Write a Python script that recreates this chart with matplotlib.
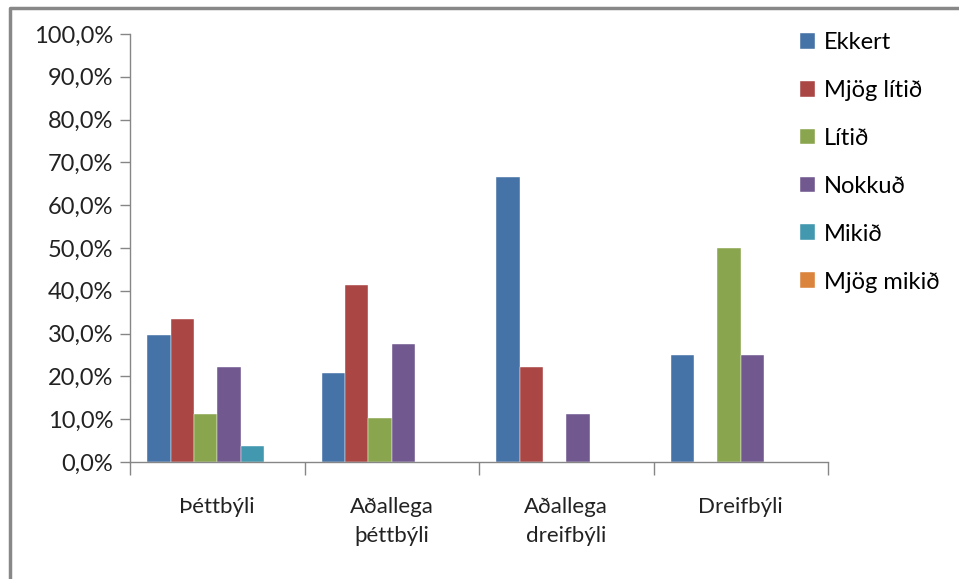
import numpy as np
import matplotlib.pyplot as plt
from matplotlib.lines import Line2D
from matplotlib.ticker import FuncFormatter

plt.rcParams['font.family'] = ['Lato', 'DejaVu Sans']

# Survey answers per settlement type (share of respondents, %)
categories = ['Þéttbýli', 'Aðallega\nþéttbýli', 'Aðallega\ndreifbýli', 'Dreifbýli']
series = ['Ekkert', 'Mjög lítið', 'Lítið', 'Nokkuð', 'Mikið', 'Mjög mikið']
ekkert = [29.6, 20.7, 66.7, 25.0]
mjog_litid = [33.3, 41.4, 22.2, 0.0]
litid = [11.1, 10.3, 0.0, 50.0]
nokkud = [22.2, 27.6, 11.1, 25.0]
mikid = [3.7, 0.0, 0.0, 0.0]
mjog_mikid = [0.0, 0.0, 0.0, 0.0]
colors = ['#4572A7', '#AA4643', '#89A54E', '#71588F', '#4198AF', '#DB843D']

values = [ekkert, mjog_litid, litid, nokkud, mikid, mjog_mikid]

fig = plt.figure(figsize=(9.59, 5.79), dpi=100)
ax = fig.add_axes([130 / 959, 117 / 579, 698 / 959, 428 / 579])

x = np.arange(len(categories))
w = 0.8 / len(series)
for i, (name, vals) in enumerate(zip(series, values)):
    ax.bar(x - 0.4 + w * (i + 0.5), vals, width=w, color=colors[i],
           label=name, edgecolor='white', linewidth=0.3)

ax.set_xlim(-0.5, len(categories) - 0.5)
ax.set_ylim(0, 100)
ax.set_yticks(np.arange(0, 101, 10))
ax.yaxis.set_major_formatter(FuncFormatter(lambda v, p: f'{v:.1f}%'.replace('.', ',')))

# category labels sit between the boundary ticks
ax.set_xticks(np.arange(-0.5, len(categories), 1.0))
ax.set_xticklabels([])
ax.set_xticks(x, minor=True)
ax.set_xticklabels(categories, minor=True, fontsize=16, color='#222222',
                   linespacing=1.55, va='top')
ax.tick_params(axis='x', which='minor', length=0, pad=25)
ax.tick_params(axis='x', which='major', length=9, width=1, color='#868686')
ax.tick_params(axis='y', length=7, width=1, color='#868686', labelsize=17,
               labelcolor='#222222', pad=5)

for s in ['top', 'right']:
    ax.spines[s].set_visible(False)
for s in ['left', 'bottom']:
    ax.spines[s].set_color('#868686')
    ax.spines[s].set_linewidth(1)

ax.legend(loc='upper left', bbox_to_anchor=(800 / 959, (579 - 32) / 579),
          bbox_transform=fig.transFigure, frameon=False, fontsize=17,
          handlelength=0.65, handleheight=0.65, handletextpad=0.35,
          labelspacing=1.14, borderaxespad=0, borderpad=0)

# outer chart frame (top and left edges)
fig.add_artist(Line2D([9.5 / 959, 9.5 / 959, 1.0], [0.0, 1 - 7.5 / 579, 1 - 7.5 / 579],
                      transform=fig.transFigure, color='#888888', linewidth=2.5))

fig.savefig('out.png', dpi=100)
